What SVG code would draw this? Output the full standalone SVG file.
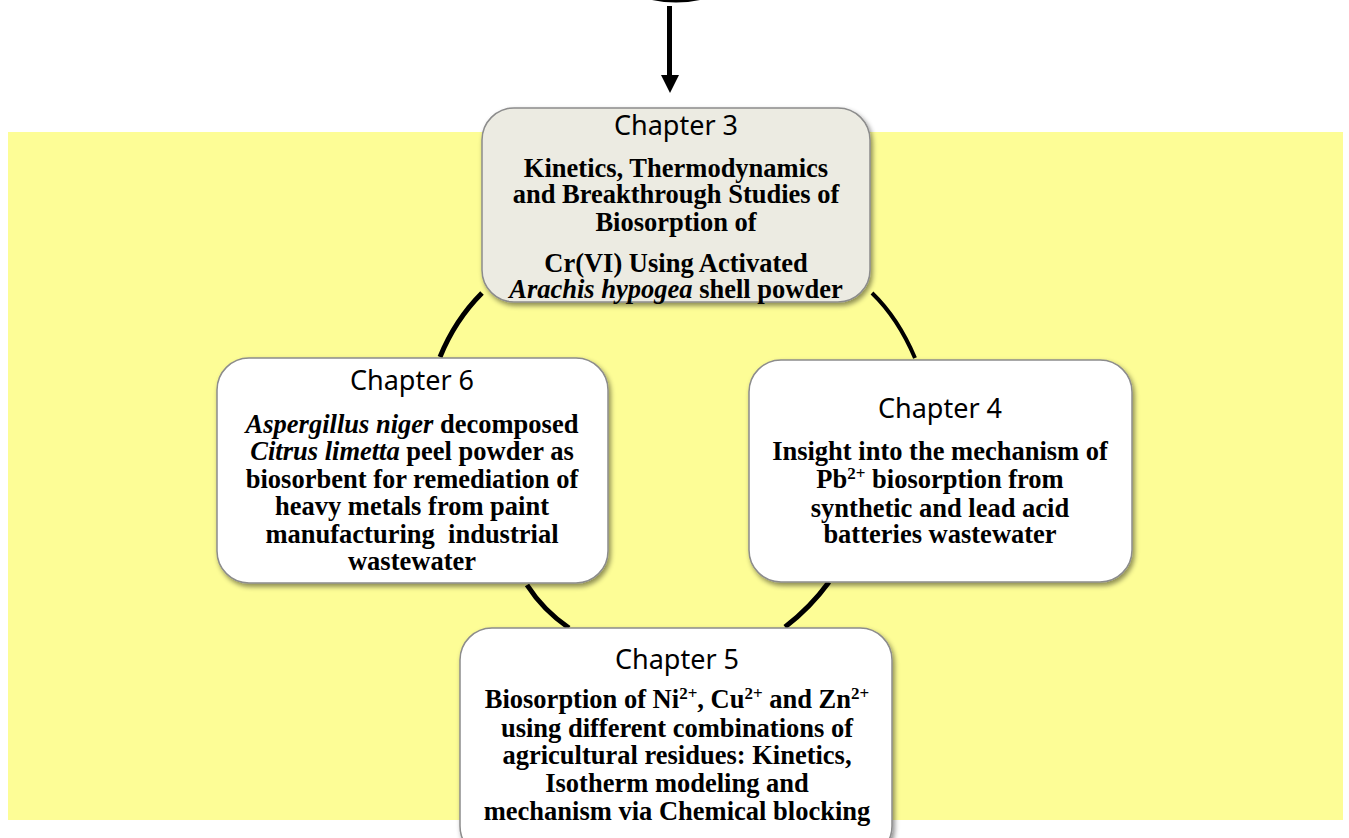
<svg xmlns="http://www.w3.org/2000/svg" width="1349" height="838" viewBox="0 0 1349 838">
<defs>
<filter id="sh" x="-10%" y="-10%" width="120%" height="125%">
<feDropShadow dx="2" dy="3" stdDeviation="2.5" flood-color="#000" flood-opacity="0.45"/>
</filter>
<style>
.box{stroke:#8c8c8c;stroke-width:1.5;filter:url(#sh)}
.title{font-family:"Noto Sans","DejaVu Sans",sans-serif;font-size:27px;fill:#000;text-anchor:middle}
.body{font-family:"Liberation Serif","Times New Roman",serif;font-weight:bold;font-size:26.5px;fill:#000;text-anchor:middle}
.it{font-style:italic}
.sup{font-size:17px}
.conn{fill:none;stroke:#000;stroke-linecap:butt}
</style>
</defs>
<rect x="0" y="0" width="1349" height="838" fill="#fff"/>
<rect x="8" y="132" width="1335" height="688" fill="#FDFD96"/>
<g id="top-arrow">
<path d="M652,0 Q676,5 700,0 Z" fill="#000"/>
<rect x="667" y="6" width="5" height="71" fill="#000"/>
<polygon points="661,75 679,75 670,93" fill="#000"/>
</g>
<g id="connectors">
<path class="conn" d="M482,293 Q455,320 440,357" stroke-width="5"/>
<path class="conn" d="M872,293 Q898,318 915,358" stroke-width="4"/>
<path class="conn" d="M527,585 Q543,610 569,628" stroke-width="5"/>
<path class="conn" d="M829,582 Q810,608 785,627" stroke-width="5"/>
</g>
<g id="chapter3">
<rect class="box" x="482" y="108" width="388" height="194" rx="32" fill="#ECEBE2"/>
<text class="title" x="676" y="135">Chapter 3</text>
<text class="body" x="676" y="177">Kinetics, Thermodynamics</text>
<text class="body" x="676" y="203">and Breakthrough Studies of</text>
<text class="body" x="676" y="231">Biosorption of</text>
<text class="body" x="676" y="272">Cr(VI) Using Activated</text>
<text class="body" x="676" y="298"><tspan class="it">Arachis hypogea</tspan> shell powder</text>
</g>
<g id="chapter6">
<rect class="box" x="217" y="358" width="391" height="225" rx="32" fill="#fff"/>
<text class="title" x="412" y="390">Chapter 6</text>
<text class="body" x="412" y="433"><tspan class="it">Aspergillus niger</tspan> decomposed</text>
<text class="body" x="412" y="460"><tspan class="it">Citrus limetta</tspan> peel powder as</text>
<text class="body" x="412" y="488">biosorbent for remediation of</text>
<text class="body" x="412" y="515">heavy metals from paint</text>
<text class="body" x="412" y="543" xml:space="preserve">manufacturing  industrial</text>
<text class="body" x="412" y="570">wastewater</text>
</g>
<g id="chapter4">
<rect class="box" x="749" y="360" width="383" height="222" rx="32" fill="#fff"/>
<text class="title" x="940" y="418">Chapter 4</text>
<text class="body" x="940" y="460">Insight into the mechanism of</text>
<text class="body" x="940" y="488">Pb<tspan class="sup" dy="-9">2+</tspan><tspan dy="9"> biosorption from</tspan></text>
<text class="body" x="940" y="517">synthetic and lead acid</text>
<text class="body" x="940" y="543">batteries wastewater</text>
</g>
<g id="chapter5">
<rect class="box" x="460" y="628" width="432" height="230" rx="32" fill="#fff"/>
<text class="title" x="677" y="669">Chapter 5</text>
<text class="body" x="677" y="708">Biosorption of Ni<tspan class="sup" dy="-9">2+</tspan><tspan dy="9">, Cu</tspan><tspan class="sup" dy="-9">2+</tspan><tspan dy="9"> and Zn</tspan><tspan class="sup" dy="-9">2+</tspan></text>
<text class="body" x="677" y="737">using different combinations of</text>
<text class="body" x="677" y="764">agricultural residues: Kinetics,</text>
<text class="body" x="677" y="792">Isotherm modeling and</text>
<text class="body" x="677" y="820">mechanism via Chemical blocking</text>
</g>
</svg>
